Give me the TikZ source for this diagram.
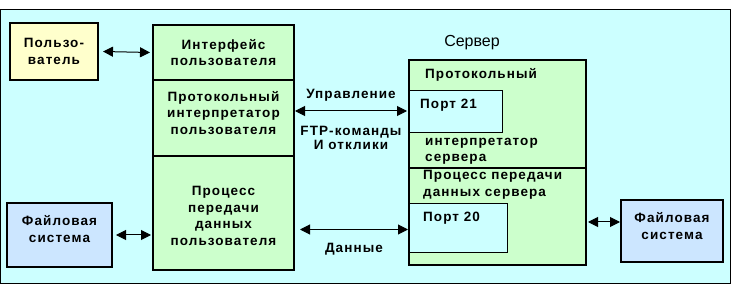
\documentclass[tikz,border=0pt]{standalone}
\usepackage{fontspec}
\setmainfont{Liberation Sans}
\usetikzlibrary{arrows.meta,positioning,calc}
\definecolor{bgcyan}{HTML}{CCFFFF}
\definecolor{boxgreen}{HTML}{CCFFCC}
\definecolor{boxyellow}{HTML}{FFFFCC}
\definecolor{boxblue}{HTML}{CCE6FF}
\tikzset{
	x=1pt, y=-1pt,
	box/.style={draw, line width=1.6pt, inner sep=0pt, outer sep=0pt,
		anchor=north west},
	port/.style={draw, line width=0.8pt, fill=bgcyan, inner sep=0pt,
		outer sep=0pt, anchor=north west},
	txt/.style={inner sep=0pt, align=center,
		font=\bfseries\fontsize{13.5}{16.5}\selectfont\addfontfeatures{LetterSpace=8}},
	txtl/.style={txt, align=left, anchor=west},
	link/.style={{Triangle[length=10pt,width=10pt]}-{Triangle[length=10pt,width=10pt]},
		line width=1pt},
}

\begin{document}
\begin{tikzpicture}
    \useasboundingbox (0,0) rectangle (732,286);
    \draw[fill=bgcyan, line width=0.8pt] (0,9) rectangle (730,283);
    % client side
    \node[box, fill=boxyellow, minimum width=88pt, minimum height=57pt] (user) at (10,23) {};
    \node[txt] at (user.center) {Пользо-\\ватель};
    \node[box, fill=boxgreen, minimum width=141pt, minimum height=55pt] (iface) at (153,25) {};
    \node[txt] at (iface.center) {Интерфейс\\пользователя};
    \node[box, fill=boxgreen, minimum width=141pt, minimum height=76pt] (pi) at (153,80) {};
    \node[txt] at ([yshift=5pt]pi.center) {Протокольный\\интерпретатор\\пользователя};
    \node[box, fill=boxgreen, minimum width=141pt, minimum height=114pt] (dtp) at (153,156) {};
    \node[txt] at ([yshift=-3pt]dtp.center) {Процесс\\передачи\\данных\\пользователя};
    \node[box, fill=boxblue, minimum width=105pt, minimum height=64pt] (fsl) at (7,203) {};
    \node[txt] at ([yshift=6pt]fsl.center) {Файловая\\система};
    % server side
    \node[font=\fontsize{16}{18}\selectfont, inner sep=0pt] (srv) at (472,43) {Сервер};
    \node[box, fill=boxgreen, minimum width=177pt, minimum height=108pt] (spi) at (409,60) {};
    \node[box, fill=boxgreen, minimum width=177pt, minimum height=97pt] (sdtp) at (409,168) {};
    \node[txtl] at ($(spi.north west)+(16,15)$) {Протокольный};
    \node[port, minimum width=93pt, minimum height=42pt] (port21) at (409,90) {};
    \node[txtl] at ($(port21.north west)+(11,15)$) {Порт 21};
    \node[txtl] at ($(spi.north west)+(16,91.5)$) {интерпретатор\\сервера};
    \node[txtl] at ($(sdtp.north west)+(14,17)$) {Процесс передачи\\данных сервера};
    \node[port, minimum width=98pt, minimum height=49pt] (port20) at (409,203) {};
    \node[txtl] at ($(port20.north west)+(14,15)$) {Порт 20};
    \node[box, fill=boxblue, minimum width=102pt, minimum height=62pt] (fsr) at (621,200) {};
    \node[txt] at ([yshift=5pt]fsr.center) {Файловая\\система};
    % connections
    \draw[link] ([xshift=5pt]user.east) -- ([xshift=-3pt]iface.west);
    \draw[link] ([xshift=4pt]fsl.east) -- ($(fsl.east -| dtp.west)+(-2,0)$);
    \draw[link] ($(pi.east |- port21.west)+(1,0)$) -- ([xshift=-2pt]port21.west)
        node[txt, midway, above=9pt] {Управление}
        node[txt, midway, below=15pt, font=\bfseries\fontsize{13.5}{13.5}\selectfont\addfontfeatures{LetterSpace=8}] {FTP-команды\\И отклики};
    \draw[link] ($(dtp.east |- port20.west)+(6,2)$) -- ($(port20.west)+(-1,2)$)
        node[txt, midway, below=13pt] {Данные};
    \draw[link] ($(sdtp.east |- fsr.west)+(2,-9)$) -- ($(fsr.west)+(-1,-9)$);
\end{tikzpicture}
\end{document}
